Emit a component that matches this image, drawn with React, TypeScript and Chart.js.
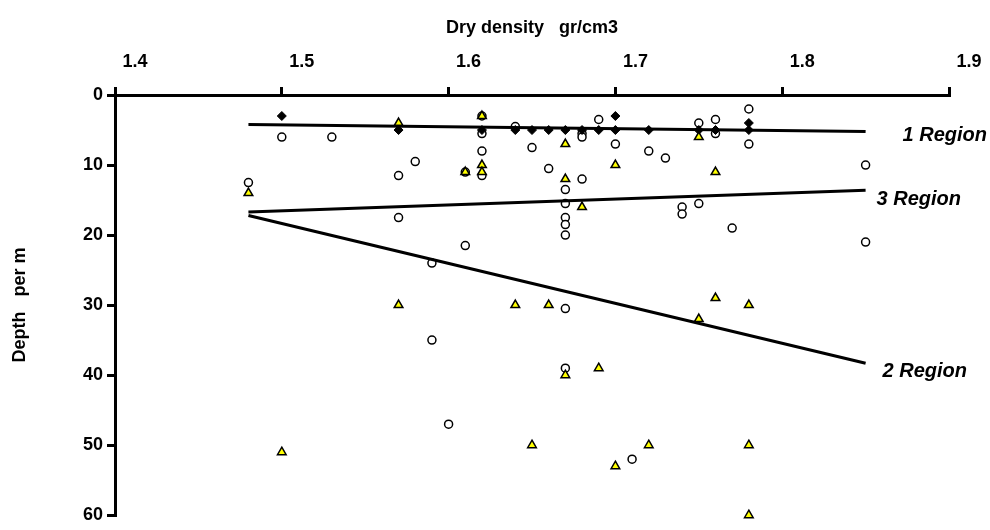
import React, { useEffect, useRef } from 'react';
import { Chart, registerables } from 'chart.js';

Chart.register(...registerables);

// ---- axis ticks ----
const xTickValues = [1.4, 1.5, 1.6, 1.7, 1.8, 1.9];
const yTickValues = [0, 10, 20, 30, 40, 50, 60];
const xAxisTitle = 'Dry density   gr/cm3';
const yAxisTitle = 'Depth   per m';

// ---- open circles ----
const circleX = [1.5, 1.53, 1.48, 1.57, 1.58, 1.57, 1.62, 1.62, 1.62, 1.62, 1.61, 1.64, 1.65, 1.66, 1.67, 1.67, 1.67, 1.67, 1.67, 1.68, 1.68, 1.68, 1.69, 1.7, 1.72, 1.73, 1.74, 1.74, 1.75, 1.75, 1.76, 1.76, 1.78, 1.78, 1.85, 1.85, 1.77, 1.61, 1.59, 1.59, 1.67, 1.67, 1.6, 1.71];
const circleY = [6, 6, 12.5, 11.5, 9.5, 17.5, 3, 5.5, 8, 11.5, 11, 4.5, 7.5, 10.5, 13.5, 15.5, 17.5, 18.5, 20, 5.5, 6, 12, 3.5, 7, 8, 9, 16, 17, 15.5, 4, 3.5, 5.5, 2, 7, 10, 21, 19, 21.5, 24, 35, 30.5, 39, 47, 52];

// ---- black diamonds ----
const diamondX = [1.5, 1.57, 1.62, 1.64, 1.65, 1.66, 1.67, 1.68, 1.69, 1.7, 1.7, 1.72, 1.75, 1.76, 1.78, 1.78];
const diamondY = [3, 5, 5, 5, 5, 5, 5, 5, 5, 3, 5, 5, 5, 5, 4, 5];

// ---- yellow triangles ----
const triangleX = [1.48, 1.57, 1.62, 1.62, 1.62, 1.61, 1.67, 1.67, 1.68, 1.7, 1.75, 1.76, 1.57, 1.64, 1.66, 1.76, 1.78, 1.75, 1.67, 1.69, 1.5, 1.65, 1.72, 1.7, 1.78, 1.78];
const triangleY = [14, 4, 3, 10, 11, 11, 7, 12, 16, 10, 6, 11, 30, 30, 30, 29, 30, 32, 40, 39, 51, 50, 50, 53, 50, 60];

// ---- region trend lines ----
const regionNames = ['1 Region', '3 Region', '2 Region'];
const region1X = [1.48, 1.85];
const region1Y = [4.2, 5.2];
const region3X = [1.48, 1.85];
const region3Y = [16.7, 13.6];
const region2X = [1.48, 1.85];
const region2Y = [17.2, 38.3];

const zip = (xs: number[], ys: number[]) => xs.map((x, i) => ({ x, y: ys[i] }));

const FONT = '"Liberation Sans", Arial, sans-serif';

export default function App() {
  const ref = useRef<HTMLCanvasElement | null>(null);

  useEffect(() => {
    if (!ref.current) return;

    const lineSets = [
      { xs: region1X, ys: region1Y },
      { xs: region3X, ys: region3Y },
      { xs: region2X, ys: region2Y },
    ];
    const labelOffsets = [
      { dx: 37, dy: 4 },
      { dx: 11, dy: 9 },
      { dx: 17, dy: 8 },
    ];

    const regionLabelPlugin = {
      id: 'regionLabels',
      afterDatasetsDraw(chart: any) {
        const { ctx, scales } = chart;
        ctx.save();
        ctx.font = `italic bold 20px ${FONT}`;
        ctx.fillStyle = '#000';
        ctx.textAlign = 'left';
        ctx.textBaseline = 'middle';
        lineSets.forEach((l, i) => {
          const x = scales.x.getPixelForValue(l.xs[1]) + labelOffsets[i].dx;
          const y = scales.y.getPixelForValue(l.ys[1]) + labelOffsets[i].dy;
          ctx.fillText(regionNames[i], x, y);
        });
        ctx.restore();
      },
    };

    const lineDs = (xs: number[], ys: number[]) => ({
      type: 'line' as const,
      data: zip(xs, ys),
      borderColor: '#000',
      borderWidth: 3,
      pointRadius: 0,
      fill: false,
      showLine: true,
      clip: false as any,
    });

    const chart = new Chart(ref.current, {
      type: 'scatter',
      data: {
        datasets: [
          lineDs(region1X, region1Y) as any,
          lineDs(region3X, region3Y) as any,
          lineDs(region2X, region2Y) as any,
          {
            data: zip(triangleX, triangleY),
            pointStyle: 'triangle',
            pointRadius: 5,
            backgroundColor: '#FFFF00',
            borderColor: '#000',
            borderWidth: 1.5,
            clip: false as any,
          },
          {
            data: zip(diamondX, diamondY),
            pointStyle: 'rectRot',
            pointRadius: 4.5,
            backgroundColor: '#000',
            borderColor: '#000',
            borderWidth: 1,
            clip: false as any,
          },
          {
            data: zip(circleX, circleY),
            pointStyle: 'circle',
            pointRadius: 4,
            backgroundColor: '#fff',
            borderColor: '#000',
            borderWidth: 1.5,
            clip: false as any,
          },
        ],
      },
      options: {
        responsive: false,
        animation: false,
        layout: { padding: { left: 0, top: 0, right: 41, bottom: 9 } },
        plugins: {
          legend: { display: false },
          tooltip: { enabled: false },
        },
        scales: {
          x: {
            type: 'linear',
            position: 'top',
            min: 1.4,
            max: 1.9,
            afterBuildTicks: (s: any) => {
              s.ticks = xTickValues.map((v) => ({ value: v }));
            },
            afterFit: (s: any) => {
              s.height = 95;
            },
            ticks: {
              color: '#000',
              font: { family: FONT, size: 18, weight: 'bold' },
              padding: 14,
              labelOffset: 20,
              maxRotation: 0,
              autoSkip: false,
              callback: (v: any) => Number(v).toFixed(1),
            },
            grid: {
              display: true,
              drawOnChartArea: false,
              drawTicks: true,
              tickLength: 8,
              tickWidth: 3,
              tickColor: '#000',
              color: '#000',
              lineWidth: 3,
            },
            border: { display: true, color: '#000', width: 3 },
            title: {
              display: true,
              text: xAxisTitle,
              color: '#000',
              font: { family: FONT, size: 18, weight: 'bold' },
              padding: { top: 17, bottom: 0 },
            },
          },
          y: {
            type: 'linear',
            position: 'left',
            reverse: true,
            min: 0,
            max: 60,
            afterBuildTicks: (s: any) => {
              s.ticks = yTickValues.map((v) => ({ value: v }));
            },
            afterFit: (s: any) => {
              s.width = 115;
            },
            ticks: {
              color: '#000',
              font: { family: FONT, size: 18, weight: 'bold' },
              padding: 4,
              autoSkip: false,
            },
            grid: {
              display: true,
              drawOnChartArea: false,
              drawTicks: true,
              tickLength: 8,
              tickWidth: 3,
              tickColor: '#000',
              color: '#000',
              lineWidth: 3,
            },
            border: { display: true, color: '#000', width: 3 },
            title: {
              display: true,
              text: yAxisTitle,
              color: '#000',
              font: { family: FONT, size: 18, weight: 'bold' },
              padding: { top: 9, bottom: 0 },
            },
          },
        },
      },
      plugins: [regionLabelPlugin],
    });

    return () => chart.destroy();
  }, []);

  return (
    <div style={{ position: 'absolute', left: 0, top: 0, width: 990, height: 530, background: '#fff' }}>
      <canvas ref={ref} width={990} height={530} style={{ display: 'block' }} />
    </div>
  );
}
